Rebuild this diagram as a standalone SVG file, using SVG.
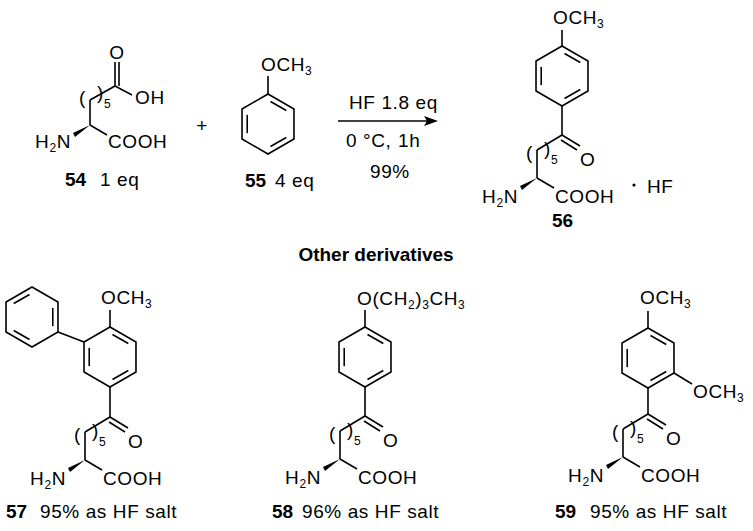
<svg xmlns="http://www.w3.org/2000/svg" width="753" height="531" viewBox="0 0 753 531">
<style>
text{font-family:"Liberation Sans",Arial,sans-serif;font-size:19px;letter-spacing:0.6px;fill:#000}
.b{font-weight:bold;letter-spacing:0}
.s{font-size:12px}
line,polyline,polygon.r{stroke:#000;stroke-width:1.6;fill:none}
</style>
<defs>
<g id="ringA"><polygon class="r" points="0,-30 25.98,-15 25.98,15 0,30 -25.98,15 -25.98,-15"/><line x1="2.49" y1="-22.56" x2="18.29" y2="-13.44"/><line x1="18.29" y1="13.44" x2="2.49" y2="22.56"/><line x1="-20.78" y1="9.12" x2="-20.78" y2="-9.12"/></g>
<g id="ringB"><polygon class="r" points="0,-30 25.98,-15 25.98,15 0,30 -25.98,15 -25.98,-15"/><line x1="-18.29" y1="-13.44" x2="-2.49" y2="-22.56"/><line x1="20.78" y1="-9.12" x2="20.78" y2="9.12"/><line x1="-2.49" y1="22.56" x2="-18.29" y2="13.44"/></g>
<g id="aa"><line x1="0" y1="0" x2="0" y2="-28"/><line x1="0" y1="-28" x2="25" y2="-43"/><polygon points="0,0 -17,8 -15,12" fill="#000"/><line x1="0" y1="0" x2="17" y2="10"/><text x="-11" y="-19">(</text><text x="7" y="-23">)</text><text class="s" x="14" y="-14">5</text><text x="-19" y="25" text-anchor="end">H<tspan font-size="12" dy="4">2</tspan><tspan dy="-4">N</tspan></text><text x="18" y="25">COOH</text></g>
<g id="ket"><line x1="0" y1="0" x2="18" y2="11"/><line x1="-1" y1="5" x2="15" y2="15"/><text x="18" y="31">O</text></g>
</defs>
<g id="c54">
<line x1="90" y1="125" x2="90" y2="100"/><line x1="90" y1="100" x2="115" y2="86"/>
<polygon points="90,125 73,133 75,137" fill="#000"/><line x1="90" y1="125" x2="107" y2="135"/>
<line x1="115" y1="86" x2="115" y2="62"/><line x1="119" y1="86" x2="119" y2="62"/>
<text x="117" y="59" text-anchor="middle">O</text>
<line x1="115" y1="86" x2="132" y2="95"/><text x="135" y="104">OH</text>
<text x="79" y="104">(</text><text x="97" y="99">)</text><text class="s" x="104" y="108">5</text>
<text x="71" y="148" text-anchor="end">H<tspan font-size="12" dy="4">2</tspan><tspan dy="-4">N</tspan></text>
<text x="108" y="148">COOH</text>
<text x="65" y="186"><tspan class="b">54</tspan><tspan x="100">1 eq</tspan></text>
</g>
<g id="plus"><text x="202" y="132" text-anchor="middle">+</text></g>
<g id="c55">
<use href="#ringA" x="268" y="124"/><line x1="268" y1="94" x2="268" y2="76"/>
<text x="261" y="71">OCH<tspan font-size="12" dy="4">3</tspan></text>
<text x="245" y="187"><tspan class="b">55</tspan><tspan x="275">4 eq</tspan></text>
</g>
<g id="arrow">
<line x1="338" y1="121" x2="428" y2="121"/><polygon points="438,121 424,116 427,121 424,126" fill="#000"/>
<text x="349" y="109">HF 1.8 eq</text><text x="346" y="147">0 °C,<tspan x="398">1h</tspan></text><text x="370" y="178">99%</text>
</g>
<g id="c56">
<use href="#ringA" x="562" y="76"/><line x1="562" y1="46" x2="562" y2="30"/>
<text x="553" y="24">OCH<tspan font-size="12" dy="4">3</tspan></text>
<line x1="562" y1="106" x2="562" y2="135"/>
<use href="#aa" x="537" y="178"/><use href="#ket" x="562" y="135"/>
<circle cx="634" cy="185" r="1.6" fill="#000"/><text x="647" y="193">HF</text>
<text class="b" x="552" y="227">56</text>
</g>
<text class="b" x="376" y="261" text-anchor="middle">Other derivatives</text>
<g id="c57">
<use href="#ringB" x="32" y="317"/><line x1="58" y1="332" x2="84" y2="342"/>
<use href="#ringA" x="110" y="357"/><line x1="110" y1="327" x2="110" y2="310"/>
<text x="101" y="304">OCH<tspan font-size="12" dy="4">3</tspan></text>
<line x1="110" y1="387" x2="110" y2="417"/>
<use href="#aa" x="85" y="460"/><use href="#ket" x="110" y="417"/>
<text x="6" y="518"><tspan class="b">57</tspan><tspan x="40">95% as HF salt</tspan></text>
</g>
<g id="c58">
<use href="#ringA" x="365" y="357"/><line x1="365" y1="327" x2="365" y2="310"/>
<text x="357" y="305">O(CH<tspan font-size="12" dy="4">2</tspan><tspan dy="-4">)</tspan><tspan font-size="12" dy="4">3</tspan><tspan dy="-4">CH</tspan><tspan font-size="12" dy="4">3</tspan></text>
<line x1="365" y1="387" x2="365" y2="416"/>
<use href="#aa" x="340" y="459"/><use href="#ket" x="365" y="416"/>
<text x="272" y="518"><tspan class="b">58</tspan><tspan x="302">96% as HF salt</tspan></text>
</g>
<g id="c59">
<use href="#ringA" x="648" y="358"/><line x1="648" y1="328" x2="648" y2="311"/>
<text x="640" y="304">OCH<tspan font-size="12" dy="4">3</tspan></text>
<line x1="674" y1="373" x2="692" y2="384"/>
<text x="693" y="398">OCH<tspan font-size="12" dy="4">3</tspan></text>
<line x1="648" y1="388" x2="648" y2="414"/>
<use href="#aa" x="623" y="457"/><use href="#ket" x="648" y="414"/>
<text x="555" y="518"><tspan class="b">59</tspan><tspan x="590">95% as HF salt</tspan></text>
</g>
</svg>
